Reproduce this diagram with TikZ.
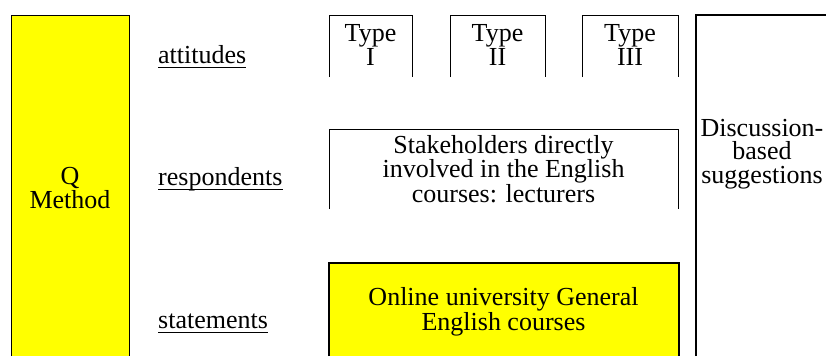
\documentclass[tikz,border=0pt]{standalone}
\usepackage{fontspec}
\setmainfont{Liberation Serif}
\definecolor{qyellow}{RGB}{255,255,0}
\tikzset{
  txt/.style={align=center,inner sep=0pt,font=\fontsize{26}{23.5}\selectfont},
  lbl/.style={anchor=base west,inner sep=0pt,font=\fontsize{26}{23.5}\selectfont},
  uline/.style={line width=1.6pt},
  openbox/.style={line width=1pt}
}
\begin{document}
\begin{tikzpicture}[x=1pt,y=-1pt]
        \useasboundingbox (0,0) rectangle (826,356);
        % Q method column
        \fill[qyellow] (11,15) rectangle (129,356);
        \draw[openbox] (11,356) |- (129,15) -- (129,356);
        \node[txt] (qm) at (70,188) {Q\\Method};
        % labels
        \node[lbl] (att) at (158,63) {attitudes};
        \node[lbl] (resp) at (158,185) {respondents};
        \node[lbl] (stat) at (158,328) {statements};
        \foreach \n in {att,resp,stat}
          \draw[uline] ([yshift=-4.5pt]\n.base west) -- ([yshift=-4.5pt]\n.base east);
        % types
        \draw[openbox] (329,77) |- (412,15) -- (412,77);
        \draw[openbox] (450,77) |- (545,15) -- (545,77);
        \draw[openbox] (582,77) |- (678,15) -- (678,77);
        \node[txt] (t1) at (370.5,45) {Type\\I};
        \node[txt] (t2) at (497.5,45) {Type\\II};
        \node[txt] (t3) at (630,45) {Type\\III};
        % respondents
        \draw[openbox] (329,209) |- (678,129) -- (678,209);
        \node[txt] (stake) at (503.5,169) {Stakeholders directly\\involved in the English\\courses: lecturers};
        % statements
        \fill[qyellow] (329,263) rectangle (679,356);
        \draw[line width=2pt] (329,356) |- (679,263) -- (679,356);
        \node[txt] (courses) at (503.5,312) {Online university General\\English courses};
        % suggestions
        \draw[line width=1.5pt] (696,356) |- (826,15);
        \node[txt] (disc) at (762,154) {Discussion-\\based\\suggestions};
\end{tikzpicture}
\end{document}
